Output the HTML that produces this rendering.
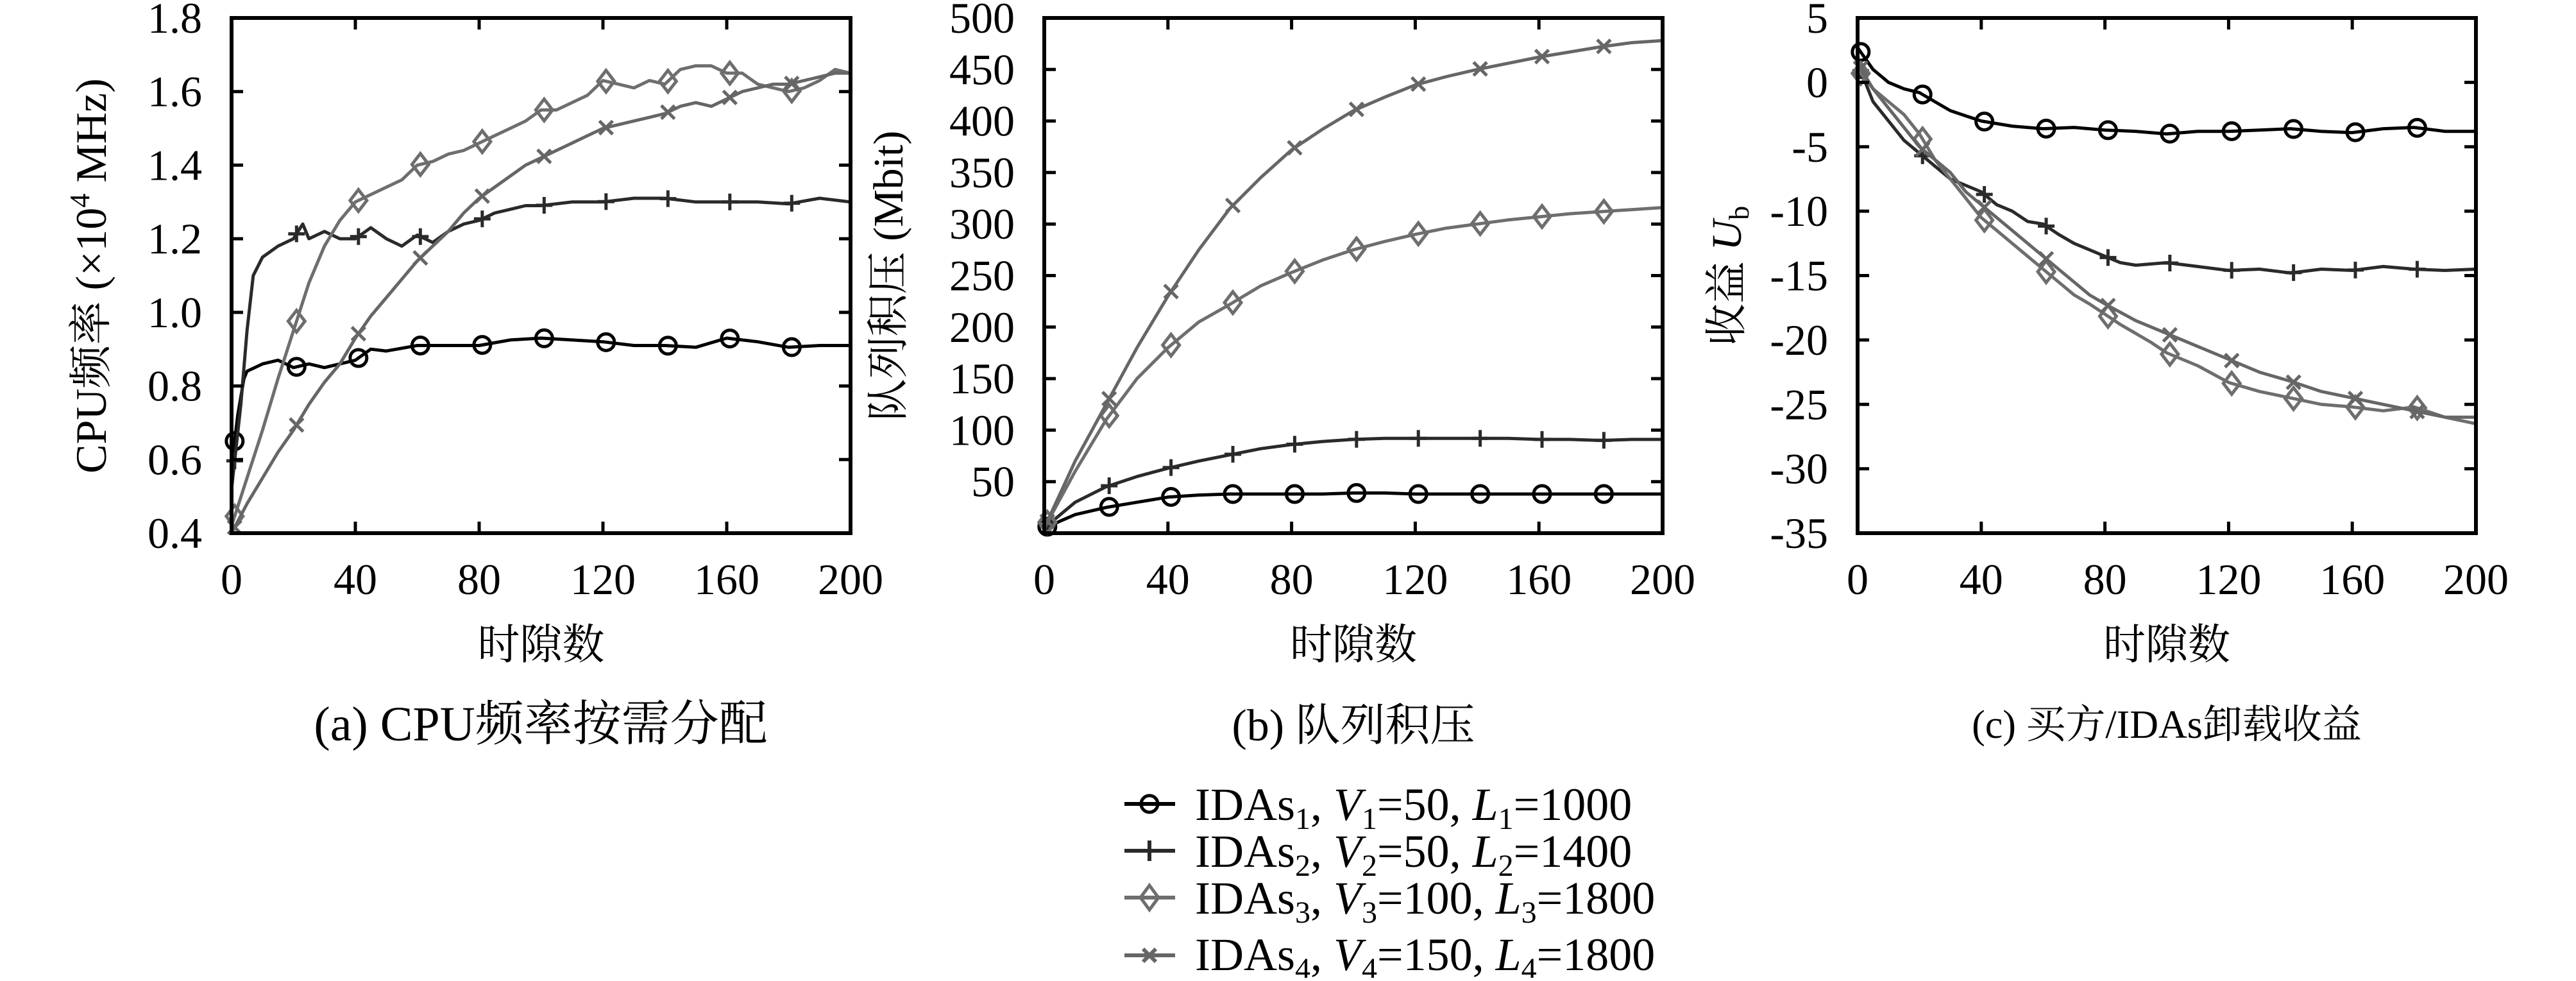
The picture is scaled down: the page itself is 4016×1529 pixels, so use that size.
<!DOCTYPE html>
<html><head><meta charset="utf-8">
<style>
body{margin:0;background:#fff;}
svg text{font-family:"Liberation Serif","Noto Serif CJK SC",serif;fill:#000;}
</style></head>
<body>
<svg id="fig" width="4016" height="1524" viewBox="0 0 4016 1524" xmlns="http://www.w3.org/2000/svg"></svg>
<script>
// ---------- data ----------
const xTicks=[0,40,80,120,160,200];
const aTicks=[0.4,0.6,0.8,1.0,1.2,1.4,1.6,1.8];
const aTickLabels=["0.4","0.6","0.8","1.0","1.2","1.4","1.6","1.8"];
const bTicks=[50,100,150,200,250,300,350,400,450,500];
const cTicks=[5,0,-5,-10,-15,-20,-25,-30,-35];
const markerSlots=[1,21,41,61,81,101,121,141,161,181];

const aX1=[0,2,4,5,10,15,20,25,30,35,40,45,50,60,70,80,90,100,110,120,130,140,150,160,170,180,190,200];
const aY1=[0.58,0.72,0.82,0.84,0.86,0.87,0.85,0.86,0.85,0.86,0.87,0.90,0.895,0.91,0.91,0.91,0.925,0.93,0.925,0.92,0.91,0.91,0.905,0.93,0.92,0.905,0.91,0.91];
const aX2=[0,3,5,7,10,15,20,23,25,30,35,40,45,50,55,60,65,70,75,80,85,90,95,100,110,120,130,140,150,160,170,180,190,200];
const aY2=[0.52,0.75,0.95,1.10,1.15,1.18,1.20,1.24,1.20,1.22,1.20,1.20,1.23,1.20,1.18,1.21,1.19,1.22,1.24,1.25,1.27,1.28,1.29,1.29,1.30,1.30,1.31,1.31,1.30,1.30,1.30,1.295,1.31,1.30];
const aX3=[0,5,10,15,20,25,30,35,40,45,50,55,60,65,70,75,80,85,90,95,100,105,110,115,120,125,130,135,140,145,150,155,160,165,170,175,180,185,190,195,200];
const aY3=[0.42,0.55,0.68,0.82,0.95,1.08,1.18,1.25,1.30,1.32,1.34,1.36,1.40,1.41,1.43,1.44,1.46,1.48,1.50,1.52,1.55,1.55,1.57,1.59,1.63,1.62,1.61,1.63,1.62,1.66,1.67,1.67,1.65,1.65,1.62,1.61,1.60,1.61,1.63,1.66,1.65];
const aX4=aX3;
const aY4=[0.40,0.48,0.55,0.62,0.68,0.75,0.81,0.86,0.93,0.99,1.04,1.09,1.14,1.18,1.22,1.27,1.31,1.34,1.37,1.40,1.42,1.44,1.46,1.48,1.50,1.51,1.52,1.53,1.54,1.56,1.57,1.56,1.58,1.60,1.61,1.62,1.62,1.63,1.64,1.65,1.65];

const bX=[0,10,20,30,40,50,60,70,80,90,100,110,120,130,140,150,160,170,180,190,200];
const bY1=[5,18,25,30,35,37,38,38,38,38,39,39,38,38,38,38,38,38,38,38,38];
const bY2=[5,30,45,55,63,70,76,82,86,89,91,92,92,92,92,92,91,91,90,91,91];
const bY3=[5,60,110,150,180,205,222,240,253,265,275,283,290,296,300,304,307,310,312,314,316];
const bY4=[5,70,125,180,230,275,315,345,372,392,410,423,435,443,450,456,462,467,472,476,478];

const cX1=[0,5,10,15,20,25,30,35,40,45,50,60,70,80,90,100,110,120,130,140,150,160,170,180,190,200];
const cY1=[2.7,1.0,0,-0.5,-0.8,-1.5,-2.2,-2.6,-3.0,-3.2,-3.4,-3.6,-3.5,-3.7,-3.8,-4.0,-3.8,-3.8,-3.7,-3.6,-3.8,-3.9,-3.6,-3.5,-3.8,-3.8];
const cX2=[0,5,10,15,20,25,30,35,40,45,50,55,60,65,70,75,80,85,90,100,110,120,130,140,150,160,170,180,190,200];
const cY2=[1.5,-1.5,-3,-4.5,-5.5,-6.5,-7.5,-8,-8.5,-9.5,-10,-10.8,-11,-11.8,-12.5,-13,-13.5,-14,-14.2,-14.0,-14.3,-14.6,-14.5,-14.8,-14.5,-14.6,-14.3,-14.5,-14.6,-14.5];
const cX3=[0,5,10,15,20,25,30,35,40,45,50,55,60,65,70,75,80,85,90,95,100,110,120,130,140,150,160,170,180,190,200];
const cY3=[1,-0.5,-1.5,-2.5,-4,-6,-7.5,-9,-10.5,-11.5,-12.5,-13.5,-14.5,-15.5,-16.5,-17.2,-18,-18.8,-19.5,-20.2,-21,-22,-23.3,-24,-24.5,-25,-25.2,-25.5,-25.2,-26,-26.5];
const cX4=[0,5,10,15,20,25,30,35,40,45,50,55,60,65,70,75,80,90,100,110,120,130,140,150,160,170,180,190,200];
const cY4=[1.5,-0.5,-2,-3.5,-5,-6,-7,-8.5,-9.5,-10.5,-11.5,-12.5,-13.5,-14.5,-15.5,-16.5,-17.2,-18.5,-19.5,-20.5,-21.5,-22.5,-23.2,-24,-24.5,-25,-25.5,-26,-26];

// ---------- drawing ----------
const NS="http://www.w3.org/2000/svg";
const svg=document.getElementById('fig');
function mk(tag,attrs,parent){const e=document.createElementNS(NS,tag);for(const k in attrs)e.setAttribute(k,attrs[k]);(parent||svg).appendChild(e);return e;}
const colors=["#000","#2a2a2a","#6e6e6e","#666"];
const names=["idas1","idas2","idas3","idas4"];
const TOP=28,BOT=831;
function interp(xs,ys,x){for(let i=0;i<xs.length-1;i++){if(x>=xs[i]&&x<=xs[i+1]){const t=(x-xs[i])/(xs[i+1]-xs[i]);return ys[i]+t*(ys[i+1]-ys[i]);}}return ys[ys.length-1];}
function marker(g,type,x,y,col){
  const s=13;
  if(type===0){mk('circle',{cx:x,cy:y,r:s,fill:'none',stroke:col,'stroke-width':5},g);}
  else if(type===1){mk('path',{d:`M${x-s} ${y}H${x+s}M${x} ${y-s}V${y+s}`,stroke:col,'stroke-width':5,fill:'none'},g);}
  else if(type===2){mk('path',{d:`M${x} ${y-s*1.3}L${x+s} ${y}L${x} ${y+s*1.3}L${x-s} ${y}Z`,stroke:col,'stroke-width':5,fill:'none'},g);}
  else {mk('path',{d:`M${x-s*.8} ${y-s*.8}L${x+s*.8} ${y+s*.8}M${x+s*.8} ${y-s*.8}L${x-s*.8} ${y+s*.8}`,stroke:col,'stroke-width':5,fill:'none'},g);}
}
function panel(id,L,R,ymin,ymax,yt,ytl,series){
  const g=mk('g',{});
  
  
  const sx=v=>L+(v-0)/200*(R-L);
  const sy=v=>BOT-(v-ymin)/(ymax-ymin)*(BOT-TOP);
  series.forEach((s,i)=>{
    const sg=mk('g',{},g);
    
    
    const d=s[0].map((x,j)=>(j?'L':'M')+sx(x).toFixed(1)+' '+sy(s[1][j]).toFixed(1)).join('');
    const p=mk('path',{d:d,fill:'none',stroke:colors[i],'stroke-width':5,'stroke-linejoin':'round'},sg);
    
    
    markerSlots.forEach(m=>marker(sg,i,sx(m),sy(interp(s[0],s[1],m)),colors[i]));
  });
  const f=mk('rect',{x:L,y:TOP,width:R-L,height:BOT-TOP,fill:'none',stroke:'#000','stroke-width':6},g);
  
  
  xTicks.forEach(v=>{
    const x=sx(v);
    mk('path',{d:`M${x} ${BOT}V${BOT-18}M${x} ${TOP}V${TOP+18}`,stroke:'#000','stroke-width':5},g);
    const t=mk('text',{x:x,y:926,'font-size':68,'text-anchor':'middle'},g);t.textContent=v;
    
    
  });
  yt.forEach((v,k)=>{
    const y=sy(v);
    mk('path',{d:`M${L} ${y}H${L+18}M${R} ${y}H${R-18}`,stroke:'#000','stroke-width':5},g);
    const t=mk('text',{x:L-46,y:y+23,'font-size':68,'text-anchor':'end'},g);t.textContent=ytl[k];
    
    
  });
  const xl=mk('text',{x:(L+R)/2,y:1027,'font-size':66,'text-anchor':'middle'},g);xl.textContent='时隙数';
  
  
  return {g,sx,sy};
}
panel('a',361,1326,0.4,1.8,aTicks,aTickLabels,[[aX1,aY1],[aX2,aY2],[aX3,aY3],[aX4,aY4]]);
panel('b',1628,2592,0,500,bTicks,bTicks.map(String),[[bX,bY1],[bX,bY2],[bX,bY3],[bX,bY4]]);
panel('c',2896,3860,-35,5,cTicks,cTicks.map(String),[[cX1,cY1],[cX2,cY2],[cX3,cY3],[cX4,cY4]]);
</script>
<svg style="position:absolute;left:0;top:0" width="4016" height="1524">
  <text transform="translate(165,430) rotate(-90)" font-size="68" text-anchor="middle">CPU频率 (×10<tspan font-size="44" dy="-26">4</tspan><tspan dy="26"> MHz)</tspan></text>
  <text transform="translate(1407,430) rotate(-90)" font-size="66" text-anchor="middle">队列积压 (Mbit)</text>
  <text transform="translate(2714,430) rotate(-90)" font-size="66" text-anchor="middle">收益 <tspan font-style="italic">U</tspan><tspan font-size="44" dy="12">b</tspan></text>
  <text x="843" y="1154" font-size="76" text-anchor="middle">(a) CPU频率按需分配</text>
  <text x="2110" y="1154" font-size="70" text-anchor="middle">(b) 队列积压</text>
  <text x="3378" y="1150" font-size="62" text-anchor="middle">(c) 买方/IDAs卸载收益</text>
  <g font-size="72">
    <g>
      <path d="M1753 1253H1832" stroke="#000" stroke-width="6"/><circle cx="1792" cy="1253" r="13" fill="none" stroke="#000" stroke-width="5"/>
      <text x="1863" y="1278">IDAs<tspan font-size="48" dy="14">1</tspan><tspan dy="-14">, </tspan><tspan font-style="italic">V</tspan><tspan font-size="48" dy="14">1</tspan><tspan dy="-14">=50, </tspan><tspan font-style="italic">L</tspan><tspan font-size="48" dy="14">1</tspan><tspan dy="-14">=1000</tspan></text>
    </g>
    <g>
      <path d="M1753 1326H1832M1792 1310V1342" stroke="#2a2a2a" stroke-width="6"/>
      <text x="1863" y="1351">IDAs<tspan font-size="48" dy="14">2</tspan><tspan dy="-14">, </tspan><tspan font-style="italic">V</tspan><tspan font-size="48" dy="14">2</tspan><tspan dy="-14">=50, </tspan><tspan font-style="italic">L</tspan><tspan font-size="48" dy="14">2</tspan><tspan dy="-14">=1400</tspan></text>
    </g>
    <g>
      <path d="M1753 1399H1832" stroke="#6e6e6e" stroke-width="6"/><path d="M1792 1380L1806 1399L1792 1418L1778 1399Z" fill="none" stroke="#6e6e6e" stroke-width="5"/>
      <text x="1863" y="1424">IDAs<tspan font-size="48" dy="14">3</tspan><tspan dy="-14">, </tspan><tspan font-style="italic">V</tspan><tspan font-size="48" dy="14">3</tspan><tspan dy="-14">=100, </tspan><tspan font-style="italic">L</tspan><tspan font-size="48" dy="14">3</tspan><tspan dy="-14">=1800</tspan></text>
    </g>
    <g>
      <path d="M1753 1489H1832M1782 1479L1802 1499M1802 1479L1782 1499" stroke="#666" stroke-width="6"/>
      <text x="1863" y="1512">IDAs<tspan font-size="48" dy="14">4</tspan><tspan dy="-14">, </tspan><tspan font-style="italic">V</tspan><tspan font-size="48" dy="14">4</tspan><tspan dy="-14">=150, </tspan><tspan font-style="italic">L</tspan><tspan font-size="48" dy="14">4</tspan><tspan dy="-14">=1800</tspan></text>
    </g>
  </g>
</svg>
</body></html>
